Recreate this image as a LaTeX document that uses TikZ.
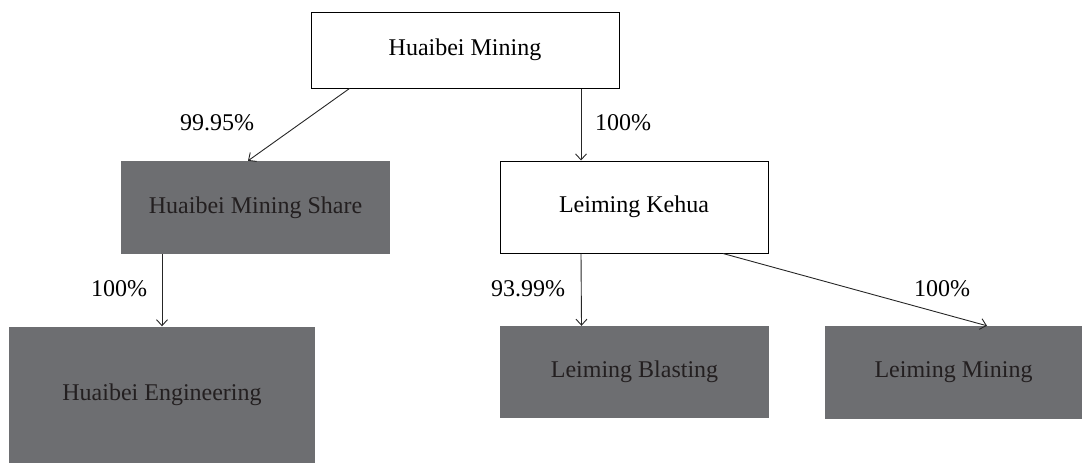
\documentclass[tikz,border=0pt]{standalone}
\usepackage{fontspec}
\setmainfont{Liberation Serif}
\usetikzlibrary{arrows.meta}
\definecolor{boxgray}{HTML}{6D6E71}
\definecolor{textdark}{HTML}{231F20}
\begin{document}
\begin{tikzpicture}[x=1pt,y=-1pt,
  font=\fontsize{24}{28}\selectfont,
  wbox/.style={rectangle,draw,line width=1pt,inner sep=0pt,align=center},
  gbox/.style={rectangle,fill=boxgray,text=textdark,inner sep=0pt,align=center},
  link/.style={-{Straight Barb[length=6pt,width=11pt]},line width=0.9pt,draw=black!85},
  pct/.style={inner sep=0pt}]
\useasboundingbox (0,0) rectangle (1082,463);
\node(HM)[wbox,minimum width=308pt,minimum height=76pt] at (465,50) {Huaibei Mining};
\node(HMS)[gbox,minimum width=269pt,minimum height=93pt] at (255.5,207.5) {Huaibei Mining Share};
\node(LK)[wbox,minimum width=268pt,minimum height=92pt] at (634,207) {Leiming Kehua};
\node(HE)[gbox,minimum width=306pt,minimum height=137pt] at (162,395) {Huaibei Engineering};
\node(LB)[gbox,minimum width=269pt,minimum height=92pt] at (634.5,372) {Leiming Blasting};
\node(LM)[gbox,minimum width=257pt,minimum height=93pt] at (953.5,372.5) {Leiming Mining};
\draw[link] ([xshift=39pt]HM.south west) -- ([xshift=-7.5pt]HMS.north);
\draw[link] ([xshift=116pt]HM.south) -- ([xshift=116pt]HM.south |- LK.north);
\draw[link] (HE.north |- HMS.south) -- (HE.north);
\draw[link] ([xshift=-53pt]LK.south) -- ([xshift=-53pt]LB.north);
\draw[link] ([xshift=89pt]LK.south) -- ([xshift=33.5pt]LM.north);
\node(P1)[pct] at (217,123) {99.95\%};
\node(P2)[pct] at (623,123) {100\%};
\node(P3)[pct] at (119,289) {100\%};
\node(P4)[pct] at (528,289) {93.99\%};
\node(P5)[pct] at (942,289) {100\%};
\end{tikzpicture}
\end{document}
